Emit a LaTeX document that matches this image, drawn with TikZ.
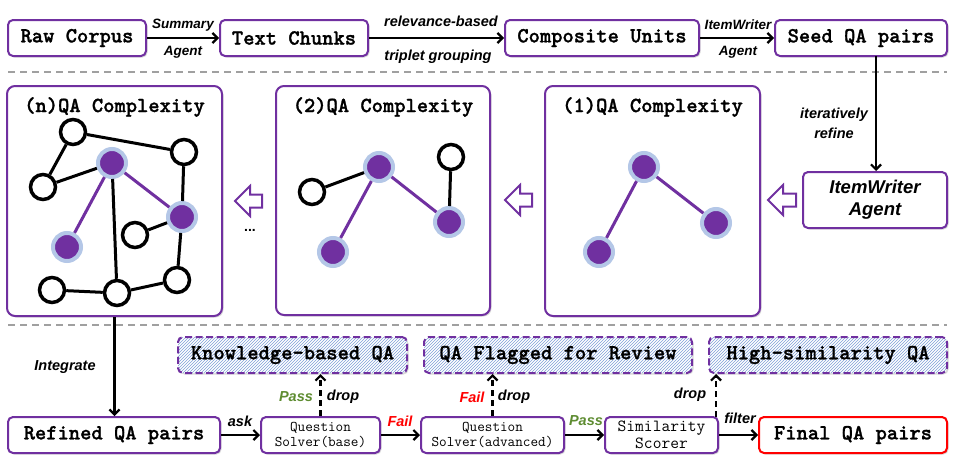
\documentclass[tikz,border=0pt]{standalone}
\usepackage{fontspec}
\setmainfont{Liberation Sans}
\newfontfamily\cbold{lmmonolt10-bold.otf}[FakeBold=1.2]
\usetikzlibrary{arrows.meta,shadows,patterns,calc}
\definecolor{purp}{HTML}{7030A0}
\definecolor{ring}{HTML}{B4C7E7}
\definecolor{hatch}{HTML}{7F9FD8}
\definecolor{passg}{HTML}{5E8C31}
\definecolor{sepg}{HTML}{A0A0A0}
\definecolor{failr}{HTML}{FF0000}
\newcommand{\bigmono}{\cbold\fontsize{21.5}{24}\selectfont}
\tikzset{
  shad/.style={drop shadow={shadow xshift=1.5pt, shadow yshift=-1.5pt, opacity=0.3}},
  box/.style={shad, draw=purp, line width=2pt, rounded corners=5pt, fill=white, inner sep=0pt,
    minimum height=36pt, font=\bigmono},
  panel/.style={shad, draw=purp, line width=2pt, rounded corners=8pt, fill=white, inner sep=0pt,
    minimum width=215pt, minimum height=230pt},
  ptitle/.style={font=\bigmono, inner sep=0pt},
  dbox/.style={shad, preaction={fill=white}, pattern=north east lines, pattern color=hatch,
    draw=purp, dash pattern=on 7pt off 3.5pt, line width=2pt, rounded corners=5pt, inner sep=0pt,
    minimum height=36pt, font=\bigmono},
  lab/.style={font=\bfseries\itshape\fontsize{14.5}{16}\selectfont, inner sep=0pt},
  slab/.style={font=\bfseries\itshape\fontsize{13.5}{15}\selectfont, inner sep=0pt},
  arr/.style={line width=2.2pt, -{Straight Barb[length=5pt,width=10pt]}},
  darr/.style={arr, dash pattern=on 6pt off 4pt},
  sep/.style={sepg, line width=1.5pt, dash pattern=on 7pt off 5pt},
  wn/.style={circle, draw=black, line width=3.5pt, fill=white, minimum size=25pt, inner sep=0pt},
  pn/.style={circle, draw=ring, line width=4pt, fill=purp, minimum size=28pt, inner sep=0pt,
    drop shadow={shadow xshift=1pt, shadow yshift=-1pt, opacity=0.25}},
  ke/.style={line width=3pt, black},
  pe/.style={line width=3pt, purp},
  hol/.style={draw=purp, line width=2pt, fill=white, line join=miter}
}
\begin{document}
\begin{tikzpicture}[x=1pt,y=-1pt]
\useasboundingbox (0,0) rectangle (953,463);

% separators
\coordinate (s1a) at (8,72); \coordinate (s1b) at (947,72);
\coordinate (s2a) at (8,325); \coordinate (s2b) at (947,325);
\draw[sep] (s1a) -- (s1b);
\draw[sep] (s2a) -- (s2b);

% top row
\node[box, minimum width=138pt] (raw) at (77,38) {Raw Corpus};
\node[box, minimum width=148pt] (chunks) at (294,38) {Text Chunks};
\node[box, minimum width=194pt] (comp) at (602,38) {Composite Units};
\node[box, minimum width=172pt] (seed) at (861,38) {Seed QA pairs};
\draw[arr] (raw) -- (chunks);
\draw[arr] (chunks) -- (comp);
\draw[arr] (comp) -- (seed);
\node[slab] (l1) at (183,25) {Summary};
\node[slab] (l2) at (183,52) {Agent};
\node[lab] (l3) at (441,21) {relevance-based};
\node[lab] (l4) at (438,57) {triplet grouping};
\node[slab] (l5) at (738,25) {ItemWriter};
\node[slab] (l6) at (738,52) {Agent};

% middle panels
\node[panel] (pn3) at (114.5,201) {};
\node[panel, minimum width=214pt, minimum height=229pt] (pn2) at (383,200.5) {};
\node[panel] (pn1) at (652.5,201) {};
\node[ptitle] (t3) at (114.5,107) {(n)QA Complexity};
\node[ptitle] (t2) at (383,107) {(2)QA Complexity};
\node[ptitle] (t1) at (652.5,107) {(1)QA Complexity};

\node[box, minimum width=144pt, minimum height=56pt, font=\bfseries\itshape\fontsize{18.5}{22}\selectfont, align=center] (iw) at (875,200) {ItemWriter\\Agent};
\coordinate (sd) at (876,56);
\draw[arr] (sd) -- (sd |- iw.north);
\node[lab] (l7) at (834,115) {iteratively};
\node[lab] (l8) at (834,133) {refine};

% hollow arrows
\draw[hol] (768,200) -- ++(15,-15) -- ++(0,8.5) -- ++(13,0) -- ++(0,13) -- ++(-13,0) -- ++(0,8.5) -- cycle;
\draw[hol] (505,200) -- ++(15,-15) -- ++(0,8.5) -- ++(12,0) -- ++(0,13) -- ++(-12,0) -- ++(0,8.5) -- cycle;
\draw[hol] (235,201) -- ++(15,-15) -- ++(0,8.5) -- ++(12,0) -- ++(0,13) -- ++(-12,0) -- ++(0,8.5) -- cycle;
\node[font=\bfseries\fontsize{14}{16}\selectfont, inner sep=0pt] (dots) at (250,230) {...};

% panel (n) graph
\node[wn] (A) at (73,132) {};
\node[wn] (B) at (43,187) {};
\node[pn] (C) at (112,163) {};
\node[wn] (D) at (184,152) {};
\node[pn] (E) at (182,217) {};
\node[wn] (F) at (135,235) {};
\node[pn] (G) at (67,247) {};
\node[wn] (H) at (52,290) {};
\node[wn] (I) at (117,293) {};
\node[wn] (J) at (177,280) {};
\draw[ke] (A) -- (D);
\draw[ke] (A) -- (B);
\draw[ke] (B) -- (C);
\draw[ke] (C) -- (I);
\draw[ke] (D) -- (E);
\draw[ke] (E) -- (F);
\draw[ke] (E) -- (J);
\draw[ke] (J) -- (I);
\draw[ke] (H) -- (I);
\draw[pe] (C) -- (E);
\draw[pe] (C) -- (G);

% panel (2) graph
\node[wn] (K) at (312,192) {};
\node[pn] (L) at (379,167) {};
\node[wn] (M) at (451,157) {};
\node[pn] (N) at (449,222) {};
\node[pn] (O) at (333,252) {};
\draw[ke] (K) -- (L);
\draw[ke] (M) -- (N);
\draw[pe] (L) -- (N);
\draw[pe] (L) -- (O);

% panel (1) graph
\node[pn] (P) at (644,167) {};
\node[pn] (Q) at (716,223) {};
\node[pn] (R) at (599,252) {};
\draw[pe] (P) -- (Q);
\draw[pe] (P) -- (R);

% bottom row
\node[box, minimum width=212pt] (ref) at (114,435) {Refined QA pairs};
\node[box, minimum width=119pt, font=\ttfamily\fontsize{14.8}{15}\selectfont, align=center] (qsb) at (320.5,435) {Question\\Solver(base)};
\node[box, minimum width=143pt, font=\ttfamily\fontsize{14.8}{15}\selectfont, align=center] (qsa) at (492.5,435) {Question\\Solver(advanced)};
\node[box, minimum width=113pt, font=\ttfamily\fontsize{17}{17}\selectfont, align=center] (sim) at (661.5,435) {Similarity\\Scorer};
\node[box, draw=failr, minimum width=188pt] (fin) at (853,435) {Final QA pairs};

\node[dbox, minimum width=229pt] (kb) at (292.5,355) {Knowledge-based QA};
\node[dbox, minimum width=268pt] (fl) at (558,355) {QA Flagged for Review};
\node[dbox, minimum width=238pt] (hs) at (828,355) {High-similarity QA};

\draw[arr] (pn3.south) -- (pn3.south |- ref.north);
\node[lab] (l9) at (65,367) {Integrate};

\draw[arr] (ref) -- (qsb);
\draw[arr] (qsb) -- (qsa);
\draw[arr] (qsa) -- (sim);
\draw[arr] (sim) -- (fin);
\node[lab] (l10) at (240,421) {ask};
\node[lab, text=failr] (l11) at (400,421) {Fail};
\node[lab, text=passg] (l12) at (586,421) {Pass};
\node[lab] (l13) at (740,418) {filter};

\draw[darr] (qsb.north) -- (qsb.north |- kb.south);
\node[lab, text=passg] (l14) at (296,397) {Pass};
\node[lab] (l15) at (343,397) {drop};
\draw[darr] (qsa.north) -- (qsa.north |- fl.south);
\node[lab, text=failr] (l16) at (472,397) {Fail};
\node[lab] (l17) at (514,397) {drop};
\coordinate (sd2) at (716,417);
\draw[darr] (sd2) -- (sd2 |- hs.south);
\node[lab] (l18) at (690,395) {drop};
\end{tikzpicture}
\end{document}
